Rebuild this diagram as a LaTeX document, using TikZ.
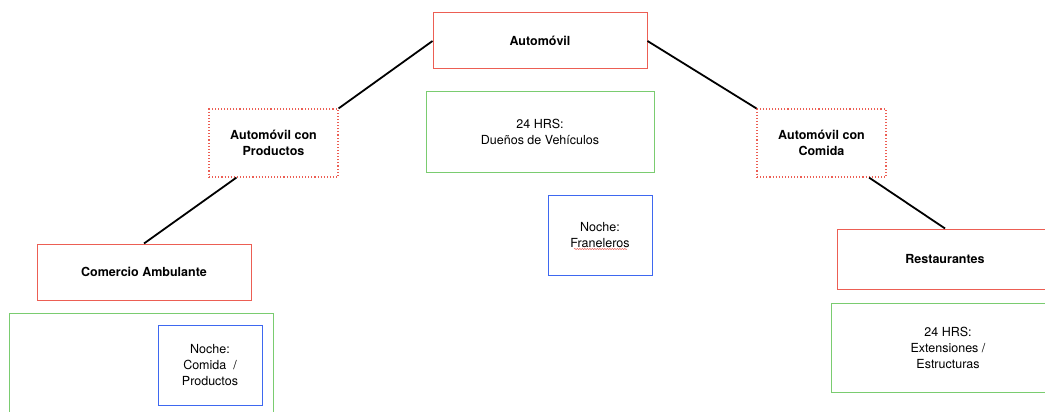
\documentclass[tikz,border=0pt]{standalone}
\usepackage{fontspec}
\setmainfont{TeX Gyre Heros}
\usetikzlibrary{calc,decorations.pathmorphing}
\definecolor{boxred}{RGB}{236,94,84}
\definecolor{boxgreen}{RGB}{122,204,112}
\definecolor{boxblue}{RGB}{62,104,240}
\newcommand{\diagfont}{\fontsize{12.5}{16}\selectfont}
\tikzset{
mainbox/.style={
draw=boxred,
line width=1pt,
align=center,
inner sep=0pt,
font=\diagfont\bfseries
},
subbox/.style={
draw=boxred,
dotted,
line width=1.1pt,
align=center,
inner sep=0pt,
minimum width=129pt,
minimum height=68pt,
font=\diagfont\bfseries
},
daybox/.style={
draw=boxgreen,
line width=1pt,
align=center,
inner sep=0pt,
font=\diagfont
},
nightbox/.style={
draw=boxblue,
line width=1pt,
align=center,
inner sep=0pt,
minimum width=104pt,
minimum height=80pt,
font=\diagfont
},
link/.style={
line width=1.8pt,
black
}
}
\begin{document}
\begin{tikzpicture}[x=1pt,y=-1pt]
\useasboundingbox (0,0) rectangle (1045,412);
\clip (0,0) rectangle (1045,412);

% centre
\node[mainbox,minimum width=214pt,minimum height=56pt](auto) at (540,41){Automóvil};
\node[daybox,minimum width=228pt,minimum height=80pt](duenos) at (540,132){24 HRS:\\Dueños de Vehículos};
\node[nightbox](fran) at (600,235){Noche:\\Franeleros};
\draw[boxred,line width=0.5pt,decorate,decoration={snake,amplitude=0.6pt,segment length=2.5pt}]
($(fran)+(-26,14)$)--($(fran)+(27,14)$);

% left branch
\node[subbox](productos) at (273.5,143){Automóvil con\\Productos};
\node[mainbox,minimum width=214pt,minimum height=56pt](comercio) at (144,272){Comercio Ambulante};
\node[daybox,minimum width=264pt,minimum height=110pt](diaizq) at (141,368){};
\node[nightbox](nocheizq) at (210,365){Noche:\\Comida~~/\\Productos};

% right branch
\node[subbox](comida) at (821.5,143){Automóvil con\\Comida};
\node[mainbox,minimum width=216pt,minimum height=60pt](rest) at (945,259){Restaurantes};
\node[daybox,minimum width=234pt,minimum height=89pt](diader) at (948,347.5){24 HRS:\\Extensiones /\\Estructuras};

\draw[link](auto.west)--(productos.north east);
\draw[link](auto.east)--(comida.north west);
\draw[link](productos.223)--(comercio.north);
\draw[link](comida.-36)--(rest.north);
\end{tikzpicture}
\end{document}
